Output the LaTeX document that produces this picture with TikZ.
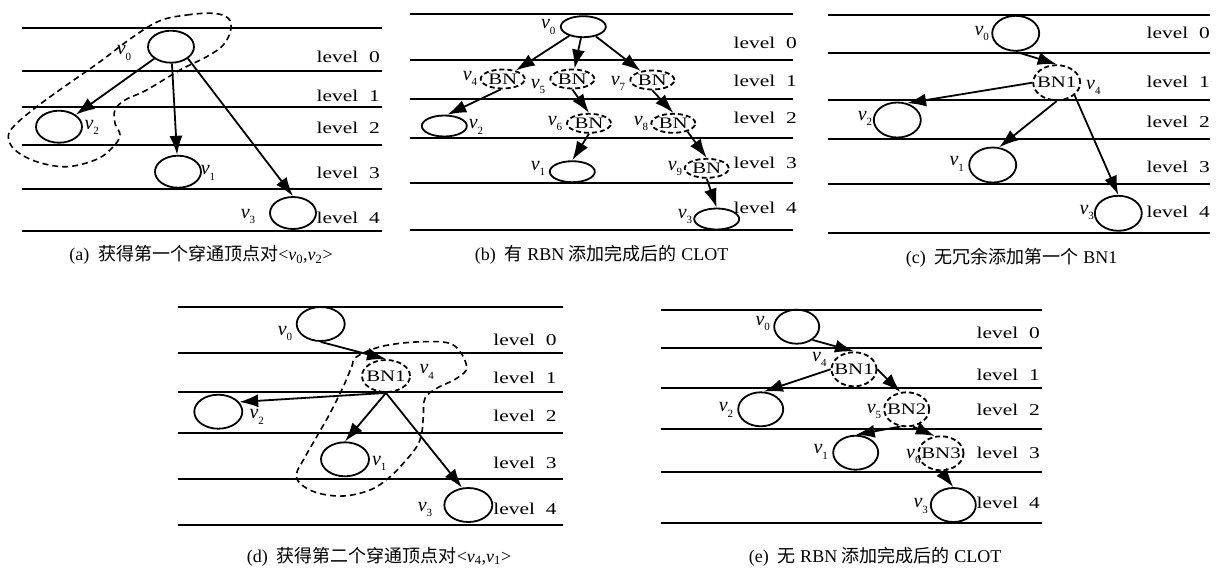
\documentclass[tikz,border=0pt]{standalone}
\usepackage{graphicx}
\usepackage{fontspec}
\setmainfont{Liberation Serif}
\newfontfamily\cjk{Noto Sans CJK SC}
\usetikzlibrary{shapes.geometric,arrows.meta}

\newcommand\sx[1]{\scalebox{1.3}[1]{#1}}
\newcommand\bn[1]{\makebox[0pt]{\sx{#1}}}
\newcommand\vlab[1]{\textit{v}\raisebox{-0.6ex}{\fontsize{11}{11}\selectfont #1}}
\newcommand\cv[1]{\textit{v}\textsubscript{#1}}

\tikzset{
  layer/.style={line width=2pt},
  vnode/.style={draw, ellipse, line width=1.8pt, inner sep=0pt, minimum width=46pt, minimum height=32pt},
  bnode/.style={vnode, dash pattern=on 5pt off 3pt, font=\fontsize{16}{16}\selectfont},
  edge/.style={line width=1.8pt, -{Latex[length=19pt,width=13pt]}},
  blob/.style={line width=1.6pt, dash pattern=on 6pt off 4pt},
  vl/.style={inner sep=0pt, font=\fontsize{20}{20}\selectfont},
  lvl/.style={anchor=east, inner sep=0pt, font=\fontsize{16.5}{18}\selectfont},
  subcap/.style={inner sep=0pt, font=\fontsize{18}{20}\selectfont},
}

\begin{document}
\begin{tikzpicture}[x=1pt,y=-1pt]
\useasboundingbox (0,0) rectangle (1220,568);

% (a)
\foreach \y in {27.7,70.7,106.7,145.3,189,231}
  \draw[layer] (21.7,\y) -- (382,\y);
\foreach \y [count=\i from 0] in {57,96,128,173,218}
  \node[lvl] (lA\i) at (380,\y) {\sx{level~~\i}};
\node[vnode] (a0) at (171,46.7) {};
\node[vnode] (a2) at (59,126.7) {};
\node[vnode] (a1) at (178,171.7) {};
\node[vnode] (a3) at (293,213) {};
\node[vl] (ta0) at (124,53) {\vlab{0}};
\node[vl] (ta2) at (91.7,127.3) {\vlab{2}};
\node[vl] (ta1) at (208,173) {\vlab{1}};
\node[vl] (ta3) at (248,216.7) {\vlab{3}};
\draw[edge] (a0) -- (a2);
\draw[edge] (a0) -- (a1);
\draw[edge] (a0.-35) -- (a3.north);
\draw[blob] plot[smooth cycle, tension=0.6] coordinates {(160,20.7) (186.7,15) (213.3,13.3) (228.3,18.3) (230.7,30) (223.3,45) (206.7,56.7) (180,70) (146.7,90) (125,100) (115,110) (115,123.3) (120,135) (113.3,146.7) (96.7,159.3) (66.7,166.7) (36.7,161.7) (15,150) (8.3,136.7) (15,125) (36.7,106.7) (66.7,85) (100,61.7) (133.3,36.7)};
\node[subcap] (capA) at (201,255) {(a)\enspace{\cjk 获得第一个穿通顶点对}<\cv{0},\cv{2}>};

% (b)
\begin{scope}[vnode/.append style={minimum width=45pt, minimum height=21pt}]
\foreach \y in {14,60,99,138.3,183.3,230}
  \draw[layer] (410,\y) -- (793,\y);
\foreach \y [count=\i from 0] in {43.3,80.7,118.3,163.3,208.3}
  \node[lvl] (lB\i) at (797,\y) {\sx{level~~\i}};
\node[vnode] (b0) at (583.3,26.7) {};
\node[bnode, minimum width=44pt, minimum height=19pt] (b4) at (502.7,79) {\bn{BN}};
\node[bnode, minimum width=44pt, minimum height=19pt] (b5) at (572.3,79) {\bn{BN}};
\node[bnode, minimum width=44pt, minimum height=19pt] (b7) at (652.3,80) {\bn{BN}};
\node[vnode] (b2) at (444.3,126) {};
\node[bnode, minimum width=44pt, minimum height=19pt] (b6) at (589,123.3) {\bn{BN}};
\node[bnode, minimum width=44pt, minimum height=19pt] (b8) at (673.3,123.3) {\bn{BN}};
\node[vnode] (b1) at (572.3,171.7) {};
\node[bnode, minimum width=44pt, minimum height=19pt] (b9) at (706.7,168.3) {\bn{BN}};
\node[vnode] (b3) at (716.7,219) {};
\node[vl] (tb0) at (548.3,27) {\vlab{0}};
\node[vl] (tb4) at (470,78.3) {\vlab{4}};
\node[vl] (tb5) at (538,86.7) {\vlab{5}};
\node[vl] (tb7) at (618,83.3) {\vlab{7}};
\node[vl] (tb2) at (476,127) {\vlab{2}};
\node[vl] (tb6) at (555,123.3) {\vlab{6}};
\node[vl] (tb8) at (641,123.3) {\vlab{8}};
\node[vl] (tb1) at (538,168.3) {\vlab{1}};
\node[vl] (tb9) at (675,168.3) {\vlab{9}};
\node[vl] (tb3) at (685,216.7) {\vlab{3}};
\draw[edge] (b0) -- (b4);
\draw[edge] (b0) -- (b5);
\draw[edge] (b0) -- (b7);
\draw[edge] (b4.260) -- (b2.75);
\draw[edge] (b5.south) -- (b6.north);
\draw[edge] (b7.south) -- (b8.north);
\draw[edge] (b6.south) -- (b1.north);
\draw[edge] (b8.-30) -- (b9.north);
\draw[edge] (b9.south) -- (b3.north);
\node[subcap] (capB) at (601.7,255) {(b)\enspace{\cjk 有} RBN {\cjk 添加完成后的} CLOT};
\end{scope}

% (c)
\begin{scope}[vnode/.append style={minimum width=47pt, minimum height=35pt}]
\foreach \y in {15,53.3,100,139.3,184.3,233.3}
  \draw[layer] (828,\y) -- (1210,\y);
\foreach \y [count=\i from 0] in {33.3,81.7,121.7,166.7,211.7}
  \node[lvl] (lC\i) at (1210,\y) {\sx{level~~\i}};
\node[vnode] (c0) at (1015.7,33.3) {};
\node[bnode] (c4) at (1056.7,82.7) {\bn{BN1}};
\node[vnode] (c2) at (897.3,120) {};
\node[vnode] (c1) at (992.7,165) {};
\node[vnode] (c3) at (1118.3,213.3) {};
\node[vl] (tc0) at (981.7,33.3) {\vlab{0}};
\node[vl] (tc4) at (1093.3,87.3) {\vlab{4}};
\node[vl] (tc2) at (865,118.3) {\vlab{2}};
\node[vl] (tc1) at (956.7,164) {\vlab{1}};
\node[vl] (tc3) at (1086.7,212.7) {\vlab{3}};
\draw[edge] (c0.south) -- (c4.north);
\draw[edge] (c4.west) -- (c2.60);
\draw[edge] (c4.south) -- (c1.70);
\draw[edge] (c4.-35) -- (c3.north);
\node[subcap] (capC) at (1011.7,258) {(c)\enspace{\cjk 无冗余添加第一个} BN1};
\end{scope}

% (d)
\begin{scope}[vnode/.append style={minimum width=48pt, minimum height=34pt}]
\foreach \y in {306.7,352.7,391.7,432.7,479,525}
  \draw[layer] (178.3,\y) -- (563.3,\y);
\foreach \y [count=\i from 0] in {340,378.3,415.7,463.3,509.3}
  \node[lvl] (lD\i) at (556.7,\y) {\sx{level~~\i}};
\node[vnode] (d0) at (320.7,324) {};
\node[bnode, minimum height=32pt] (d4) at (386,376) {\bn{BN1}};
\node[vnode] (d2) at (218.3,411.7) {};
\node[vnode] (d1) at (345,459.3) {};
\node[vnode] (d3) at (468.3,505) {};
\node[vl] (td0) at (285,333.3) {\vlab{0}};
\node[vl] (td4) at (426.7,371.7) {\vlab{4}};
\node[vl] (td2) at (256.7,416.7) {\vlab{2}};
\node[vl] (td1) at (379.3,463.3) {\vlab{1}};
\node[vl] (td3) at (425,509.3) {\vlab{3}};
\draw[edge] (d0.south) -- (d4.north);
\draw[edge] (d4.south) -- (d2.25);
\draw[edge] (d4.south) -- (d1.north);
\draw[edge] (d4.south) -- (d3.110);
\draw[blob] plot[smooth cycle, tension=0.6] coordinates {(356.7,356.7) (383.3,346) (423.3,341.7) (453.3,345) (466.7,366.7) (456.7,378.3) (436.7,388.3) (425,398.3) (423.3,416.7) (421.7,433.3) (416.7,446.7) (403.3,463.3) (388.3,478.3) (370,490) (343.3,496) (316.7,492.7) (300,483.3) (296.7,473.3) (303.3,460) (316.7,436.7) (330,413.3) (343.3,386.7) (351.7,366.7)};
\node[subcap] (capD) at (379,556.7) {(d)\enspace{\cjk 获得第二个穿通顶点对}<\cv{4},\cv{1}>};
\end{scope}

% (e)
\begin{scope}[vnode/.append style={minimum width=45pt, minimum height=34pt}]
\foreach \y in {310,347.7,388.3,429,471.7,522.7}
  \draw[layer] (661,\y) -- (1041.7,\y);
\foreach \y [count=\i from 0] in {333.3,375,410,453.3,503.3}
  \node[lvl] (lE\i) at (1040,\y) {\sx{level~~\i}};
\node[vnode] (e0) at (796.7,326.7) {};
\node[bnode] (e4) at (854,369.3) {\bn{BN1}};
\node[vnode] (e2) at (760.7,409.3) {};
\node[bnode] (e5) at (906.7,409.3) {\bn{BN2}};
\node[vnode] (e1) at (855.7,452.7) {};
\node[bnode] (e6) at (941,453.3) {\bn{BN3}};
\node[vnode] (e3) at (953.3,505) {};
\node[vl] (te0) at (762.7,323.3) {\vlab{0}};
\node[vl] (te4) at (819.3,359.3) {\vlab{4}};
\node[vl] (te2) at (726,410) {\vlab{2}};
\node[vl] (te5) at (874,411.7) {\vlab{5}};
\node[vl] (te1) at (820.7,451.7) {\vlab{1}};
\node[vl] (te6) at (913.3,456.7) {\vlab{6}};
\node[vl] (te3) at (920.7,506) {\vlab{3}};
\draw[edge] (e0.-40) -- (e4.north);
\draw[edge] (e4.west) -- (e2.80);
\draw[edge] (e4.east) -- (e5.110);
\draw[edge] (e5.250) -- (e1.north);
\draw[edge] (e5.290) -- (e6.110);
\draw[edge] (e6.south) -- (e3.north);
\node[subcap] (capE) at (875,556.7) {(e)\enspace{\cjk 无} RBN {\cjk 添加完成后的} CLOT};
\end{scope}
\end{tikzpicture}
\end{document}
